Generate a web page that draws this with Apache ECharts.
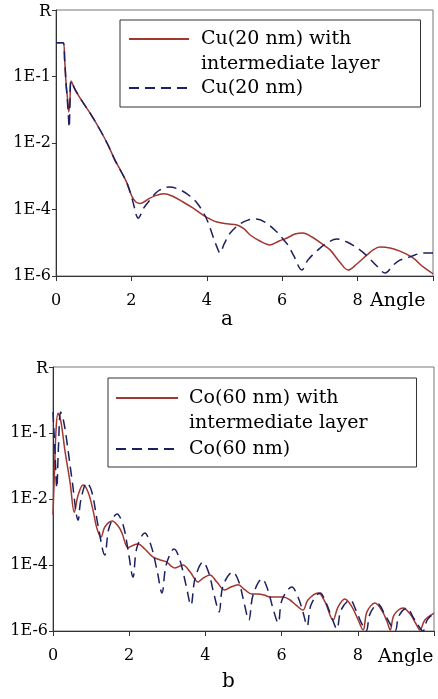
<!DOCTYPE html>
<html>
<head>
<meta charset="utf-8">
<script src="https://cdn.jsdelivr.net/npm/echarts@6/dist/echarts.min.js"></script>
<style>
  html, body { margin: 0; padding: 0; background: #fff; }
  #main { width: 438px; height: 699px; }
</style>
</head>
<body>
<div id="main"></div>
<script>
// panel a: Cu(20 nm)
const angleCuLayer = [0, 0.19, 0.23, 0.27, 0.31, 0.34, 0.37, 0.40, 0.50, 0.64, 0.90, 1.17, 1.38, 1.56, 1.72, 1.88, 2.02, 2.12, 2.23, 2.33, 2.49, 2.68, 2.86, 3.08, 3.37, 3.63, 3.90, 4.08, 4.27, 4.54, 4.80, 4.99, 5.15, 5.41, 5.68, 5.92, 6.13, 6.34, 6.55, 6.79, 7.06, 7.27, 7.53, 7.75, 7.98, 8.25, 8.41, 8.59, 8.86, 9.12, 9.47, 9.71, 9.97, 10]
const rCuLayer = [10.4, 10.4, 3.1, 0.55, 0.196, 0.086, 0.196, 0.73, 0.42, 0.225, 0.080, 0.0246, 8.7e-3, 3.1e-3, 1.44e-3, 6.3e-4, 2.4e-4, 1.68e-4, 1.51e-4, 1.68e-4, 2.2e-4, 2.7e-4, 3.0e-4, 2.55e-4, 1.68e-4, 1.11e-4, 6.8e-5, 5.2e-5, 4.2e-5, 3.7e-5, 3.4e-5, 2.6e-5, 1.71e-5, 1.13e-5, 8.6e-6, 1.13e-5, 1.39e-5, 1.83e-5, 1.96e-5, 1.49e-5, 9.2e-6, 6.1e-6, 2.6e-6, 1.51e-6, 2.3e-6, 4.3e-6, 6.1e-6, 7.4e-6, 7.0e-6, 5.6e-6, 3.5e-6, 2.0e-6, 1.23e-6, 1.15e-6]
const angleCu = [0, 0.19, 0.23, 0.27, 0.32, 0.35, 0.37, 0.40, 0.50, 0.64, 0.90, 1.17, 1.38, 1.56, 1.72, 1.88, 1.99, 2.07, 2.12, 2.18, 2.23, 2.31, 2.49, 2.71, 3.00, 3.29, 3.55, 3.74, 3.90, 4.03, 4.16, 4.27, 4.35, 4.46, 4.62, 4.88, 5.09, 5.31, 5.54, 5.86, 6.02, 6.15, 6.31, 6.52, 6.68, 6.95, 7.19, 7.45, 7.72, 8.06, 8.28, 8.51, 8.73, 8.94, 9.12, 9.31, 9.52, 9.73, 10]
const rCu = [10.4, 10.4, 3.1, 0.55, 0.098, 0.029, 0.139, 0.73, 0.42, 0.225, 0.080, 0.0246, 8.7e-3, 3.1e-3, 1.44e-3, 6.3e-4, 2.7e-4, 1.27e-4, 7.3e-5, 5.5e-5, 6.4e-5, 1.04e-4, 1.93e-4, 3.6e-4, 4.75e-4, 3.9e-4, 2.55e-4, 1.57e-4, 8.4e-5, 4.2e-5, 1.6e-5, 7.4e-6, 4.9e-6, 9.2e-6, 1.96e-5, 3.7e-5, 4.8e-5, 5.2e-5, 4.2e-5, 2.1e-5, 1.3e-5, 8.6e-6, 4.0e-6, 1.51e-6, 3.0e-6, 6.1e-6, 9.8e-6, 1.3e-5, 1.05e-5, 6.1e-6, 3.7e-6, 2.0e-6, 1.23e-6, 2.1e-6, 3.0e-6, 3.5e-6, 4.3e-6, 4.9e-6, 4.9e-6]

// panel b: Co(60 nm)
const angleCoLayer = [0, 0.04, 0.08, 0.13, 0.21, 0.31, 0.45, 0.56, 0.66, 0.79, 0.92, 1.05, 1.15, 1.26, 1.36, 1.55, 1.71, 1.81, 1.97, 2.07, 2.23, 2.41, 2.62, 2.81, 2.99, 3.10, 3.20, 3.41, 3.60, 3.81, 3.94, 4.12, 4.30, 4.51, 4.67, 4.86, 5.04, 5.22, 5.38, 5.54, 5.70, 5.83, 6.04, 6.22, 6.38, 6.56, 6.69, 6.96, 7.14, 7.35, 7.48, 7.66, 7.85, 8.01, 8.14, 8.24, 8.45, 8.64, 8.77, 8.85, 8.95, 9.19, 9.37, 9.53, 9.63, 9.76, 10]
const rCoLayer = [3.3e-3, 0.076, 1.23, 4.0, 2.15, 0.31, 0.031, 4.0e-3, 0.0132, 0.0265, 0.0163, 4.6e-3, 1.32e-3, 7.0e-4, 1.42e-3, 2.15e-3, 1.52e-3, 9.3e-4, 3.3e-4, 3.8e-4, 4.3e-4, 3.05e-4, 1.75e-4, 1.42e-4, 1.23e-4, 9.3e-5, 8.1e-5, 1.0e-4, 6.1e-5, 3.05e-5, 4.0e-5, 5.0e-5, 3.05e-5, 1.75e-5, 2.15e-5, 2.5e-5, 1.75e-5, 1.32e-5, 1.32e-5, 1.23e-5, 1.07e-5, 1.07e-5, 1.07e-5, 8.7e-6, 6.1e-6, 4.3e-6, 8.7e-6, 1.42e-5, 7.6e-6, 2.15e-6, 5.3e-6, 9.3e-6, 5.3e-6, 2.15e-6, 1.07e-6, 3.8e-6, 7.0e-6, 4.0e-6, 1.9e-6, 1.07e-6, 3.05e-6, 5.0e-6, 3.3e-6, 1.63e-6, 1.07e-6, 2.15e-6, 3.5e-6]
const angleCo = [0, 0.05, 0.10, 0.14, 0.20, 0.26, 0.34, 0.50, 0.66, 0.73, 0.89, 1.02, 1.18, 1.36, 1.47, 1.68, 1.84, 1.97, 2.10, 2.20, 2.41, 2.57, 2.73, 2.86, 2.97, 3.18, 3.33, 3.49, 3.62, 3.73, 3.94, 4.09, 4.23, 4.36, 4.46, 4.72, 4.88, 5.01, 5.14, 5.25, 5.49, 5.64, 5.77, 5.91, 6.01, 6.27, 6.43, 6.56, 6.67, 6.77, 7.01, 7.17, 7.32, 7.45, 7.56, 7.80, 7.95, 8.08, 8.22, 8.32, 8.53, 8.69, 8.85, 8.98, 9.08, 9.29, 9.45, 9.58, 9.71, 9.82, 10]
const rCo = [4.3, 0.31, 0.0215, 0.31, 4.3, 2.85, 0.87, 0.038, 2.3e-3, 9.3e-3, 0.031, 0.0163, 1.63e-3, 2.0e-4, 1.32e-3, 3.5e-3, 1.63e-3, 2.85e-4, 4.3e-5, 3.3e-4, 9.3e-4, 4.0e-4, 7.0e-5, 1.42e-5, 1.0e-4, 3.05e-4, 1.42e-4, 2.5e-5, 6.1e-6, 4.0e-5, 1.23e-4, 5.7e-5, 1.23e-5, 3.8e-6, 2.3e-5, 6.1e-5, 3.05e-5, 7.6e-6, 2.15e-6, 1.23e-5, 3.8e-5, 1.75e-5, 5.0e-6, 1.75e-6, 8.7e-6, 2.15e-5, 1.07e-5, 3.8e-6, 1.42e-6, 6.1e-6, 1.42e-5, 7.0e-6, 2.5e-6, 1.15e-6, 4.3e-6, 8.7e-6, 4.3e-6, 1.9e-6, 1.0e-6, 3.3e-6, 6.6e-6, 3.5e-6, 1.63e-6, 1.0e-6, 2.85e-6, 5.0e-6, 2.65e-6, 1.52e-6, 1.0e-6, 2.15e-6, 3.5e-6]

const xTicks = [0, 2, 4, 6, 8]
const yTickExp = [-6, -4, -2, 0]
const yTickLabels = ['1E-6', '1E-4', '1E-2', '1E-1']

const nameCuLayer = 'Cu(20 nm) with\nintermediate layer'
const nameCu = 'Cu(20 nm)'
const nameCoLayer = 'Co(60 nm) with\nintermediate layer'
const nameCo = 'Co(60 nm)'

const FONT = 'DejaVu Serif'
const RED = '#a23630'
const NAVY = '#1c1f60'

const pairs = (xs, ys) => xs.map((x, i) => [x, ys[i]])

const yLabel = (v) => {
  const e = Math.round(Math.log10(v))
  const i = yTickExp.indexOf(e)
  return i < 0 ? '' : yTickLabels[i]
}
const xLabel = (v) => (xTicks.indexOf(v) < 0 ? '' : String(v))
// rich text so the icon lines up with the first text line
const legendText = (name) => name.split('\n').map((s) => '{t|' + s + '}').join('\n')

const makeX = (idx, gap, padTop) => ({
  type: 'value', gridIndex: idx, min: 0, max: 10, interval: 2,
  name: 'Angle', nameLocation: 'end', nameGap: gap,
  nameTextStyle: { fontFamily: FONT, fontSize: 19, color: '#000', align: 'left', verticalAlign: 'top', padding: [padTop, 0, 0, 0] },
  axisLine: { show: true, lineStyle: { color: '#333', width: 1 } },
  axisTick: { show: true, length: 5, lineStyle: { color: '#333' } },
  axisLabel: { fontFamily: FONT, fontSize: 16, color: '#000', margin: 17, formatter: xLabel },
  splitLine: { show: false }
})
const makeY = (idx) => ({
  type: 'log', logBase: 100, gridIndex: idx, min: 1e-6, max: 100,
  name: 'R', nameLocation: 'end', nameGap: -2,
  nameTextStyle: { fontFamily: FONT, fontSize: 16, color: '#000', align: 'right', verticalAlign: 'middle', padding: [0, 5, 0, 0] },
  axisLine: { show: true, lineStyle: { color: '#333', width: 1 } },
  axisTick: { show: true, length: 4, lineStyle: { color: '#333' } },
  axisLabel: { fontFamily: FONT, fontSize: 16, color: '#000', margin: 5, formatter: yLabel },
  splitLine: { show: false }
})
const makeLegend = (names, left, top, pad, gap, iconW, textPad) => ({
  orient: 'vertical', left: left, top: top, padding: pad, itemGap: gap,
  itemWidth: iconW, itemHeight: 14, selectedMode: false,
  borderColor: '#333', borderWidth: 1, backgroundColor: '#fff',
  itemStyle: { opacity: 0 },
  formatter: legendText,
  textStyle: {
    fontFamily: FONT, fontSize: 19, lineHeight: 25, color: '#000',
    rich: { t: { fontFamily: FONT, fontSize: 19, lineHeight: 25, color: '#000' } }
  },
  data: [
    { name: names[0], textStyle: { padding: [25, 0, 0, textPad] } },
    { name: names[1], textStyle: { padding: [0, 0, 0, textPad] } }
  ]
})
const makeLine = (name, idx, data, color, dashed) => ({
  name: name, type: 'line', xAxisIndex: idx, yAxisIndex: idx,
  data: data, symbol: 'none', smooth: 0.35,
  lineStyle: { color: color, width: 1.5, type: dashed ? [10, 6] : 'solid' },
  itemStyle: { color: color }
})

var chart = echarts.init(document.getElementById('main'))
chart.setOption({
  animation: false,
  backgroundColor: '#fff',
  title: [
    { text: 'a', left: 221, top: 310, padding: 0, textStyle: { fontFamily: FONT, fontSize: 20, fontWeight: 'normal', color: '#000' } },
    { text: 'b', left: 222, top: 672, padding: 0, textStyle: { fontFamily: FONT, fontSize: 20, fontWeight: 'normal', color: '#000' } }
  ],
  grid: [
    { left: 56, top: 10, width: 377, height: 266, show: true, borderColor: '#777', borderWidth: 1 },
    { left: 53, top: 367, width: 381, height: 264, show: true, borderColor: '#777', borderWidth: 1 }
  ],
  legend: [
    makeLegend([nameCuLayer, nameCu], 120, 20, [-18.5, 41, 6.5, 8], -1, 60, 7),
    makeLegend([nameCoLayer, nameCo], 108, 378, [-17.5, 49, 5.5, 7], 1, 62, 6)
  ],
  xAxis: [makeX(0, -63, 16), makeX(1, -56, 17)],
  yAxis: [makeY(0), makeY(1)],
  series: [
    makeLine(nameCuLayer, 0, pairs(angleCuLayer, rCuLayer), RED, false),
    makeLine(nameCu, 0, pairs(angleCu, rCu), NAVY, true),
    makeLine(nameCoLayer, 1, pairs(angleCoLayer, rCoLayer), RED, false),
    makeLine(nameCo, 1, pairs(angleCo, rCo), NAVY, true)
  ]
})
window.addEventListener('resize', () => {
  chart.resize()
})
</script>
</body>
</html>
